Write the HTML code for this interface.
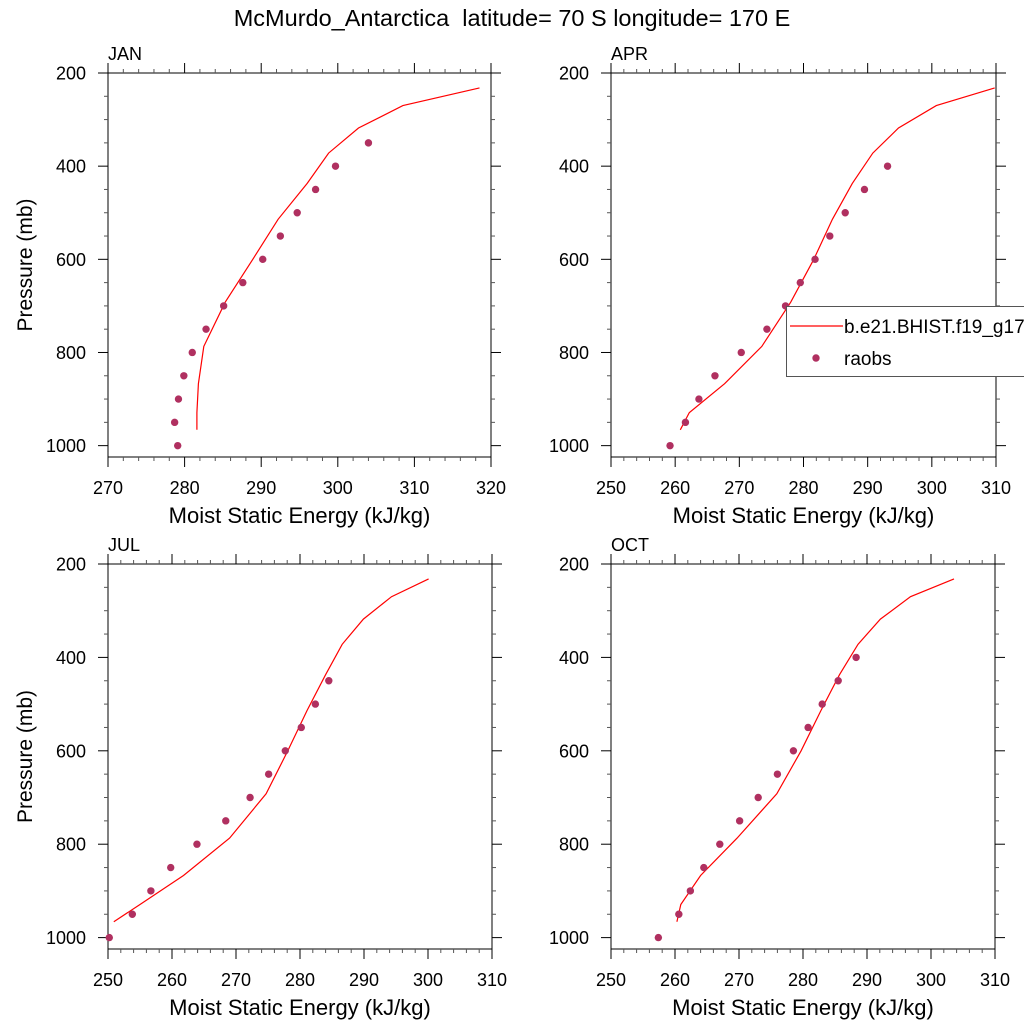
<!DOCTYPE html>
<html><head><meta charset="utf-8"><style>body{margin:0;background:#fff}svg{display:block;font-family:"Liberation Sans",sans-serif}</style></head>
<body>
<svg id="chart" width="1024" height="1024" xmlns="http://www.w3.org/2000/svg">
<rect width="1024" height="1024" fill="#fff"/>
<text x="512" y="26" font-size="23.5" text-anchor="middle" xml:space="preserve">McMurdo_Antarctica  latitude= 70 S longitude= 170 E</text>
</svg>
<script>
const modelLevels = [232,270,318,372,437,514,600,692,787,867,929,966];
const obsLevels = [1000,950,900,850,800,750,700,650,600,550,500,450,400,350];
const months = ["JAN","APR","JUL","OCT"];
const modelJAN = [318.5,308.5,302.7,298.8,296.0,292.2,288.9,285.3,282.5,281.8,281.6,281.6];
const obsJAN = [279.1,278.7,279.2,279.9,281.0,282.8,285.1,287.6,290.2,292.5,294.7,297.1,299.7,304.0];
const modelAPR = [309.8,300.7,294.8,290.8,287.6,284.5,281.6,278.0,273.5,267.7,262.2,260.8];
const obsAPR = [259.2,261.6,263.7,266.2,270.3,274.3,277.2,279.5,281.8,284.1,286.5,289.5,293.1];
const modelJUL = [300.1,294.3,289.9,286.6,284.0,281.1,278.1,274.7,269.0,261.8,255.0,250.9];
const obsJUL = [250.2,253.8,256.7,259.8,263.9,268.4,272.2,275.1,277.7,280.2,282.4,284.5];
const modelOCT = [303.6,296.8,292.1,288.6,285.7,282.8,279.7,275.9,269.7,264.0,260.9,260.3];
const obsOCT = [257.4,260.6,262.4,264.5,267.0,270.1,273.0,276.0,278.5,280.8,283.0,285.5,288.3];
const xTicksJAN = [270,280,290,300,310,320];
const xTicksOther = [250,260,270,280,290,300,310];
const yTicks = [200,400,600,800,1000];

const NS="http://www.w3.org/2000/svg";
const svg=document.getElementById('chart');
function mk(tag,attrs,parent){const e=document.createElementNS(NS,tag);for(const k in attrs)e.setAttribute(k,attrs[k]);(parent||svg).appendChild(e);return e;}

const panels=[
 {m:"JAN",x0:108,x1:491,y0:73,y1:457,xmin:270,xmax:320,ticks:xTicksJAN,model:modelJAN,obs:obsJAN},
 {m:"APR",x0:611,x1:996,y0:73,y1:457,xmin:250,xmax:310,ticks:xTicksOther,model:modelAPR,obs:obsAPR},
 {m:"JUL",x0:108,x1:492,y0:564,y1:949,xmin:250,xmax:310,ticks:xTicksOther,model:modelJUL,obs:obsJUL},
 {m:"OCT",x0:611,x1:995,y0:564,y1:949,xmin:250,xmax:310,ticks:xTicksOther,model:modelOCT,obs:obsOCT}
];
panels.forEach((P,i)=>{
  const g=mk('g',{});
  
  
  const yS=p=>P.y0+(p-200)*0.4658*((P.y1-P.y0)/384);
  const xS=v=>P.x0+(v-P.xmin)/(P.xmax-P.xmin)*(P.x1-P.x0);
  const fr=mk('rect',{x:P.x0,y:P.y0,width:P.x1-P.x0,height:P.y1-P.y0,fill:'none',stroke:'#000','stroke-width':1},g);
  
  
  for(let v=P.xmin;v<=P.xmax+0.01;v+=2){
    const X=xS(v),maj=(v%10===0),L=maj?10:4;
    mk('line',{x1:X,x2:X,y1:P.y1,y2:P.y1+L,stroke:maj?'#000':'#555'},g);
    mk('line',{x1:X,x2:X,y1:P.y0,y2:P.y0-L,stroke:maj?'#000':'#555'},g);
  }
  P.ticks.forEach(v=>{
    const t=mk('text',{x:xS(v),y:P.y1+37,'font-size':18,'text-anchor':'middle'},g);
    t.textContent=v;
    
    
  });
  for(let p=200;p<=1000;p+=50){
    const Y=yS(p),maj=(p%200===0),L=maj?10:4;
    mk('line',{x1:P.x0,x2:P.x0-L,y1:Y,y2:Y,stroke:maj?'#000':'#555'},g);
    mk('line',{x1:P.x1,x2:P.x1+L,y1:Y,y2:Y,stroke:maj?'#000':'#555'},g);
  }
  yTicks.forEach(p=>{
    const t=mk('text',{x:P.x0-22,y:yS(p)+6.5,'font-size':18,'text-anchor':'end'},g);
    t.textContent=p;
    
    
  });
  const lab=mk('text',{x:P.x0,y:P.y0-13,'font-size':18},g);
  lab.textContent=P.m;
  
  
  const xt=mk('text',{x:(P.x0+P.x1)/2,y:P.y1+66,'font-size':22,'text-anchor':'middle'},g);
  xt.textContent='Moist Static Energy (kJ/kg)';
  
  
  if(i%2===0){
    const yc=(P.y0+P.y1)/2;
    const yt=mk('text',{x:32,y:yc,'font-size':21,'text-anchor':'middle',transform:`rotate(-90 32 ${yc})`},g);
    yt.textContent='Pressure (mb)';
    
    
  }
  const pts=P.model.map((v,k)=>xS(v).toFixed(1)+','+yS(modelLevels[k]).toFixed(1)).join(' ');
  const pl=mk('polyline',{points:pts,fill:'none',stroke:'#ff0000','stroke-width':1.2},g);
  
  
  P.obs.forEach((v,k)=>{
    const c=mk('circle',{cx:xS(v),cy:yS(obsLevels[k]),r:3.7,fill:'#b03060'},g);
    
    
  });
});
const lg=mk('g',{});


mk('rect',{x:786.5,y:306.5,width:260,height:70,fill:'#fff',stroke:'#555'},lg);
mk('line',{x1:790,x2:843,y1:326,y2:326,stroke:'#ff0000','stroke-width':1.2},lg);
const l1=mk('text',{x:844,y:333,'font-size':19},lg);
l1.textContent='b.e21.BHIST.f19_g17.CMIP6';


mk('circle',{cx:816,cy:358,r:3.7,fill:'#b03060'},lg);
const l2=mk('text',{x:844,y:365,'font-size':19},lg);
l2.textContent='raobs';


</script>
</body></html>
